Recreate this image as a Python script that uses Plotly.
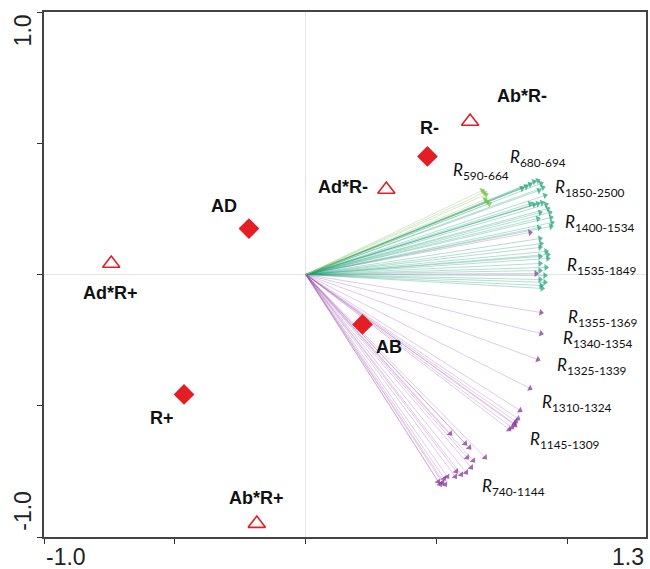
import plotly.graph_objects as go

# Response-variable loadings (wavelength bands), grouped by colour
light_x = [0.674, 0.682, 0.689, 0.685, 0.693, 0.701]
light_y = [0.320, 0.312, 0.305, 0.286, 0.278, 0.270]

teal_x = [0.826, 0.842, 0.857, 0.872, 0.887, 0.899, 0.906, 0.891, 0.914, 0.857, 0.872,
          0.887, 0.903, 0.918, 0.925, 0.933, 0.937, 0.941, 0.937, 0.895, 0.887, 0.891,
          0.895, 0.899, 0.895, 0.918, 0.925, 0.895, 0.925, 0.895, 0.918, 0.895, 0.914,
          0.895, 0.914, 0.899, 0.903]
teal_y = [0.328, 0.335, 0.343, 0.354, 0.358, 0.347, 0.331, 0.320, 0.301, 0.270, 0.267,
          0.270, 0.274, 0.267, 0.251, 0.236, 0.217, 0.198, 0.183, 0.236, 0.213, 0.179,
          0.137, 0.118, 0.103, 0.088, 0.076, 0.069, 0.061, 0.042, 0.027, 0.015, -0.004,
          -0.019, -0.030, -0.042, -0.053]

purple_x = [0.857, 0.880, 0.899, 0.899, 0.887, 0.857, 0.819, 0.811, 0.803, 0.800, 0.788,
            0.777, 0.796, 0.552, 0.609, 0.625, 0.617, 0.640, 0.685, 0.632, 0.613, 0.594,
            0.575, 0.571, 0.541, 0.529, 0.522, 0.533, 0.514, 0.506]
purple_y = [0.160, 0.004, -0.145, -0.225, -0.324, -0.434, -0.518, -0.549, -0.560, -0.575,
            -0.583, -0.590, -0.568, -0.606, -0.644, -0.659, -0.697, -0.709, -0.697, -0.735,
            -0.754, -0.762, -0.750, -0.770, -0.770, -0.777, -0.792, -0.800, -0.800, -0.789]

# Band labels and their anchor positions
band_labels = ["590-664", "680-694", "1850-2500", "1400-1534", "1535-1849", "1355-1369",
               "1340-1354", "1325-1339", "1310-1324", "1145-1309", "740-1144"]
band_lx = [0.556, 0.773, 0.944, 0.982, 0.990, 0.994, 0.975, 0.952, 0.895, 0.849, 0.666]
band_ly = [0.396, 0.442, 0.328, 0.198, 0.034, -0.164, -0.244, -0.347, -0.491, -0.632, -0.811]

# Explanatory variables: main effects (diamonds) and interactions (triangles)
main_names = ["AD", "R+", "R-", "AB"]
main_x = [-0.217, -0.465, 0.465, 0.217]
main_y = [0.175, -0.457, 0.450, -0.190]
main_shift = [(-25, 23), (-22, -24), (2, 28), (26, -23)]

inter_names = ["Ad*R+", "Ad*R-", "Ab*R-", "Ab*R+"]
inter_x = [-0.743, 0.308, 0.628, -0.187]
inter_y = [0.042, 0.324, 0.583, -0.949]
inter_shift = [(-1, -30), (-43, 2), (52, 25), (0, 26)]

RED = "#e31e24"


def fan(xs, ys, line_rgba, head_color):
    X, Y, S = [], [], []
    for x, y in zip(xs, ys):
        X += [0, x, None]
        Y += [0, y, None]
        S += [0, 6, 0]
    return go.Scatter(
        x=X, y=Y, mode="lines+markers",
        line=dict(color=line_rgba, width=0.8),
        marker=dict(symbol="triangle-up", size=S, color=head_color,
                    angleref="previous", line=dict(width=0)),
        hoverinfo="skip", showlegend=False,
    )


fig = go.Figure()
fig.add_trace(fan(purple_x, purple_y, "rgba(160,80,180,0.38)", "#7d2b90"))
fig.add_trace(fan(teal_x, teal_y, "rgba(30,160,120,0.42)", "#1b9e74"))
fig.add_trace(fan(light_x, light_y, "rgba(140,200,100,0.45)", "#6cbf3c"))

fig.add_trace(go.Scatter(
    x=main_x, y=main_y, mode="markers",
    marker=dict(symbol="diamond", size=16, color=RED, line=dict(width=0)),
    showlegend=False, hoverinfo="skip"))
fig.add_trace(go.Scatter(
    x=inter_x, y=inter_y, mode="markers",
    marker=dict(symbol="triangle-up-open", size=15, color=RED, line=dict(width=1.6, color=RED)),
    showlegend=False, hoverinfo="skip"))

annotations = []
for name, x, y, (dx, dy) in list(zip(main_names, main_x, main_y, main_shift)) + \
        list(zip(inter_names, inter_x, inter_y, inter_shift)):
    annotations.append(dict(
        x=x, y=y, xref="x", yref="y", text="<b>" + name + "</b>", showarrow=False,
        xshift=dx, yshift=dy, xanchor="center", yanchor="middle",
        font=dict(family="Liberation Sans, Arial", size=18, color="#111"),
    ))

for lab, x, y in zip(band_labels, band_lx, band_ly):
    annotations.append(dict(
        x=x, y=y, xref="x", yref="y", showarrow=False,
        text="<i>R</i><sub>" + lab + "</sub>",
        xanchor="left", yanchor="middle",
        font=dict(family="Lato, Open Sans, sans-serif", size=17, color="#111"),
    ))

# End labels of the axes
tick_font = dict(family="Liberation Sans, Arial", size=23, color="#222")
annotations += [
    dict(x=-1.0, y=0, xref="x", yref="paper", text="-1.0", showarrow=False,
         xanchor="left", yanchor="top", yshift=-5, font=tick_font),
    dict(x=1.3, y=0, xref="x", yref="paper", text="1.3", showarrow=False,
         xanchor="right", yanchor="top", yshift=-5, font=tick_font),
    dict(x=0, y=0.93, xref="paper", yref="y", text="1.0", showarrow=False,
         textangle=-90, xanchor="center", yanchor="middle", xshift=-21, font=tick_font),
    dict(x=0, y=-0.9, xref="paper", yref="y", text="-1.0", showarrow=False,
         textangle=-90, xanchor="center", yanchor="middle", xshift=-21, font=tick_font),
]

axis_common = dict(
    showgrid=False, showticklabels=False, ticks="outside", ticklen=5,
    tickcolor="#333", tickwidth=1.2, showline=True, mirror=True,
    linecolor="#444", linewidth=1.5, zeroline=True, zerolinecolor="#e4e4e4",
    zerolinewidth=1,
)

fig.update_layout(
    width=650, height=569,
    margin=dict(l=44, r=2, t=12, b=32),
    paper_bgcolor="white", plot_bgcolor="white",
    xaxis=dict(range=[-1.0, 1.3], tickvals=[-1.0, -0.5, 0, 0.5, 1.0], **axis_common),
    yaxis=dict(range=[-1.0, 1.0], tickvals=[-1.0, -0.5, 0, 0.5, 1.0], **axis_common),
    annotations=annotations,
)

fig.write_html("out.html")
